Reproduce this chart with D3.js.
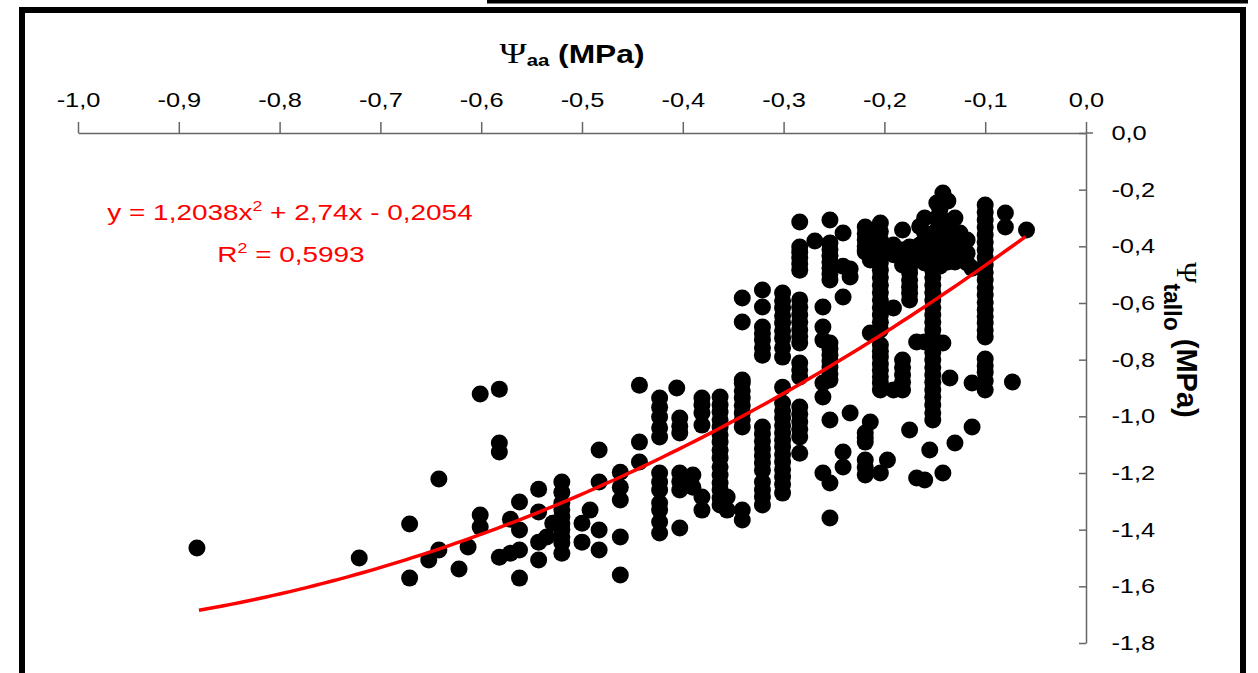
<!DOCTYPE html>
<html><head><meta charset="utf-8">
<script src="https://cdn.jsdelivr.net/npm/d3@7"></script>
<style>html,body{margin:0;padding:0;background:#fff;overflow:hidden}</style>
</head><body><svg id="c" width="1258" height="673"></svg>
<script>
// ---------- data ----------
const xTicks = [-1.0,-0.9,-0.8,-0.7,-0.6,-0.5,-0.4,-0.3,-0.2,-0.1,0.0];
const xTickLabels = ["-1,0","-0,9","-0,8","-0,7","-0,6","-0,5","-0,4","-0,3","-0,2","-0,1","0,0"];
const yTicks = [0,-0.2,-0.4,-0.6,-0.8,-1.0,-1.2,-1.4,-1.6,-1.8];
const yTickLabels = ["0,0","-0,2","-0,4","-0,6","-0,8","-1,0","-1,2","-1,4","-1,6","-1,8"];
// Ψaa values (columns) and the Ψtallo values read at each
const psiAA = [-0.882,-0.721,-0.671,-0.652,-0.642,-0.622,-0.613,-0.601,-0.582,-0.571,-0.562,-0.543,-0.535,-0.529,-0.520,-0.500,-0.492,-0.483,-0.462,-0.443,-0.423,-0.406,-0.403,-0.390,-0.381,-0.363,-0.356,-0.341,-0.321,-0.301,-0.284,-0.269,-0.261,-0.254,-0.241,-0.234,-0.219,-0.214,-0.204,-0.197,-0.191,-0.182,-0.175,-0.168,-0.165,-0.160,-0.155,-0.152,-0.148,-0.145,-0.142,-0.137,-0.135,-0.130,-0.125,-0.118,-0.113,-0.100,-0.080,-0.073,-0.059];
const psiTallo = [
 [-1.465],
 [-1.500],
 [-1.380,-1.571],
 [-1.507],
 [-1.221,-1.472],
 [-1.539],
 [-1.461],
 [-0.921,-1.348,-1.391],
 [-0.904,-1.094,-1.126,-1.497],
 [-1.363,-1.483],
 [-1.302,-1.401,-1.472,-1.571],
 [-1.257,-1.338,-1.444,-1.507],
 [-1.426],
 [-1.377],
 [-1.232,-1.268,-1.306,-1.330,-1.355,-1.380,-1.401,-1.425,-1.447,-1.483],
 [-1.377,-1.444],
 [-1.331],
 [-1.119,-1.232,-1.401,-1.472],
 [-1.197,-1.250,-1.295,-1.426,-1.560],
 [-0.890,-1.091,-1.161],
 [-0.935,-0.968,-1.002,-1.040,-1.073,-1.200,-1.232,-1.260,-1.306,-1.331,-1.373,-1.412],
 [-0.900],
 [-1.006,-1.035,-1.059,-1.200,-1.230,-1.260,-1.394],
 [-1.207,-1.250],
 [-0.935,-0.960,-0.988,-1.031,-1.285,-1.331],
 [-0.932,-0.960,-0.985,-1.012,-1.038,-1.065,-1.091,-1.120,-1.147,-1.178,-1.207,-1.235,-1.260,-1.288,-1.313],
 [-1.285,-1.331],
 [-0.582,-0.667,-0.872,-0.882,-0.910,-0.935,-0.962,-0.988,-1.012,-1.038,-1.331,-1.366],
 [-0.554,-0.614,-0.685,-0.708,-0.731,-0.758,-0.784,-1.038,-1.062,-1.088,-1.115,-1.140,-1.165,-1.190,-1.232,-1.260,-1.285,-1.313],
 [-0.565,-0.592,-0.618,-0.645,-0.671,-0.698,-0.724,-0.758,-0.791,-0.897,-0.953,-0.980,-1.006,-1.032,-1.059,-1.084,-1.108,-1.135,-1.161,-1.188,-1.214,-1.240,-1.271],
 [-0.314,-0.402,-0.420,-0.441,-0.462,-0.484,-0.589,-0.615,-0.642,-0.668,-0.695,-0.718,-0.741,-0.812,-0.836,-0.861,-0.967,-0.993,-1.020,-1.046,-1.073,-1.130],
 [-0.381],
 [-0.614,-0.685,-0.731,-0.882,-0.932,-1.200],
 [-0.307,-0.388,-0.411,-0.434,-0.456,-0.477,-0.498,-0.519,-0.741,-0.762,-0.784,-0.805,-0.826,-0.850,-0.872,-1.013,-1.235,-1.359],
 [-0.353,-0.470,-0.579,-1.126,-1.179],
 [-0.480,-0.508,-0.988],
 [-0.332,-0.355,-0.378,-0.400,-0.413,-0.420,-1.059,-1.075,-1.091,-1.154,-1.180,-1.207],
 [-0.448,-0.706,-1.020],
 [-0.318,-0.348,-0.378,-0.405,-0.431,-0.458,-0.484,-0.510,-0.537,-0.563,-0.589,-0.616,-0.642,-0.668,-0.695,-0.748,-0.770,-0.791,-0.815,-0.837,-0.860,-0.882,-0.907,-1.200],
 [-1.154],
 [-0.395,-0.430,-0.618,-0.907],
 [-0.342,-0.413,-0.440,-0.466,-0.801,-0.828,-0.854,-0.880,-0.907],
 [-0.402,-0.428,-0.455,-0.474,-0.494,-0.520,-0.544,-0.566,-0.589,-1.048],
 [-0.738,-1.218],
 [-0.330,-0.395,-0.430],
 [-0.300,-0.353,-0.413,-0.459,-0.738,-1.225],
 [-0.378,-0.431,-1.119],
 [-0.402,-0.430,-0.457,-0.484,-0.510,-0.537,-0.563,-0.589,-0.616,-0.642,-0.668,-0.695,-0.722,-0.748,-0.775,-0.801,-0.828,-0.854,-0.880,-0.907,-0.933,-0.960,-0.987,-1.013],
 [-0.247,-0.300,-0.342,-0.395,-0.448],
 [-0.270,-0.360,-0.420,-0.470],
 [-0.212,-0.307,-0.441,-0.741,-1.200],
 [-0.240,-0.330,-0.380,-0.455],
 [-0.413,-0.865],
 [-0.300,-0.360,-0.455,-1.094],
 [-0.353,-0.400,-0.440],
 [-0.378,-0.424,-0.459],
 [-0.477,-0.882,-1.038],
 [-0.254,-0.280,-0.307,-0.333,-0.360,-0.386,-0.413,-0.440,-0.466,-0.492,-0.519,-0.546,-0.572,-0.598,-0.625,-0.648,-0.671,-0.696,-0.720,-0.798,-0.822,-0.844,-0.875,-0.907],
 [-0.282,-0.332],
 [-0.879],
 [-0.342]
];
// polynomial trendline shown on the chart: y = a x^2 + b x + c, over the data range
const trendCoef = [1.2038, 2.74, -0.2054];
const trendRange = [-0.88, -0.06];
const eqParts = ["y = 1,2038x", "2", " + 2,74x - 0,2054"];
const r2Parts = ["R", "2", " = 0,5993"];

// ---------- drawing ----------
const svg = d3.select("#c");
const SX = 1.27; // horizontal text stretch of the original
const x = d3.scaleLinear().domain([-1, 0]).range([78, 1086]);
const y = d3.scaleLinear().domain([0, -1.8]).range([133, 643]);
const FONT = "Arial, 'Liberation Sans', sans-serif";
const SERIF = "'Liberation Serif', 'Times New Roman', serif";
const AXC = "#666";

// frame
svg.append("rect").attr("x",487).attr("y",0).attr("width",761).attr("height",3.5).attr("fill","#000");
svg.append("path").attr("d","M22,673V10H1243V673").attr("fill","none").attr("stroke","#000").attr("stroke-width",6);

// x axis (top)
const gx = svg.append("g").attr("transform",`translate(0,133)`)
  .call(d3.axisTop(x).tickValues(xTicks).tickSizeInner(11).tickSizeOuter(0).tickPadding(15)
        .tickFormat((d,i)=>xTickLabels[i]));
gx.select(".domain").attr("stroke",AXC).attr("stroke-width",1.5);
gx.selectAll(".tick line").attr("stroke",AXC).attr("stroke-width",1.5);
gx.selectAll(".tick text").attr("font-family",FONT).attr("font-size",20).attr("fill","#000")
  .attr("transform",`scale(${SX},1)`);

// y axis (right)
const gy = svg.append("g").attr("transform",`translate(1086,0)`)
  .call(d3.axisRight(y).tickValues(yTicks).tickSizeInner(-7).tickSizeOuter(0).tickPadding(20)
        .tickFormat((d,i)=>yTickLabels[i]));
gy.select(".domain").attr("stroke",AXC).attr("stroke-width",1.5);
gy.selectAll(".tick line").attr("stroke",AXC).attr("stroke-width",1.5);
gy.selectAll(".tick text").attr("font-family",FONT).attr("font-size",20).attr("fill","#000")
  .attr("transform",`scale(${SX},1)`);
svg.append("line").attr("x1",1086).attr("x2",1093).attr("y1",133).attr("y2",133).attr("stroke",AXC).attr("stroke-width",1.5);

// x axis title
const xt = svg.append("text").attr("transform",`translate(572,63) scale(${SX},1)`)
  .attr("text-anchor","middle").attr("font-family",FONT).attr("font-weight","bold").attr("font-size",25);
xt.append("tspan").attr("font-family",SERIF).attr("font-weight","normal").attr("font-size",29).text("Ψ");
xt.append("tspan").attr("font-size",16).attr("dy",3).text("aa");
xt.append("tspan").attr("dy",-3).text(" (MPa)");

// y axis title (rotated)
const yt = svg.append("text").attr("transform",`translate(1177,262) rotate(90)`)
  .attr("text-anchor","start").attr("font-family",FONT).attr("font-weight","bold").attr("font-size",29);
yt.append("tspan").attr("font-family",SERIF).attr("font-weight","normal").attr("font-size",29).text("Ψ");
yt.append("tspan").attr("font-size",23).attr("dy",13).text("tallo");
yt.append("tspan").attr("dy",-13).text(" (MPa)");

// points
const pts = [];
psiAA.forEach((xv,i)=>psiTallo[i].forEach(yv=>pts.push([xv,yv])));
svg.append("g").selectAll("circle").data(pts).join("circle")
  .attr("cx",d=>x(d[0])).attr("cy",d=>y(d[1])).attr("r",8.5).attr("fill","#000");

// trendline
const tx = d3.range(0, 101).map(k => trendRange[0] + (trendRange[1]-trendRange[0])*k/100);
const line = d3.line().x(d=>x(d)).y(d=>y(trendCoef[0]*d*d + trendCoef[1]*d + trendCoef[2]));
svg.append("path").datum(tx).attr("d",line).attr("fill","none").attr("stroke","#ff0000").attr("stroke-width",3.5);

// equation
function supText(parts, tx_, ty_) {
  const t = svg.append("text").attr("transform",`translate(${tx_},${ty_}) scale(${SX},1)`)
    .attr("text-anchor","middle").attr("font-family",FONT).attr("font-size",22).attr("fill","#ff0000");
  t.append("tspan").text(parts[0]);
  t.append("tspan").attr("font-size",14).attr("dy",-9).text(parts[1]);
  t.append("tspan").attr("dy",9).text(parts[2]);
}
supText(eqParts, 290, 220);
supText(r2Parts, 291, 262);
</script></body></html>
